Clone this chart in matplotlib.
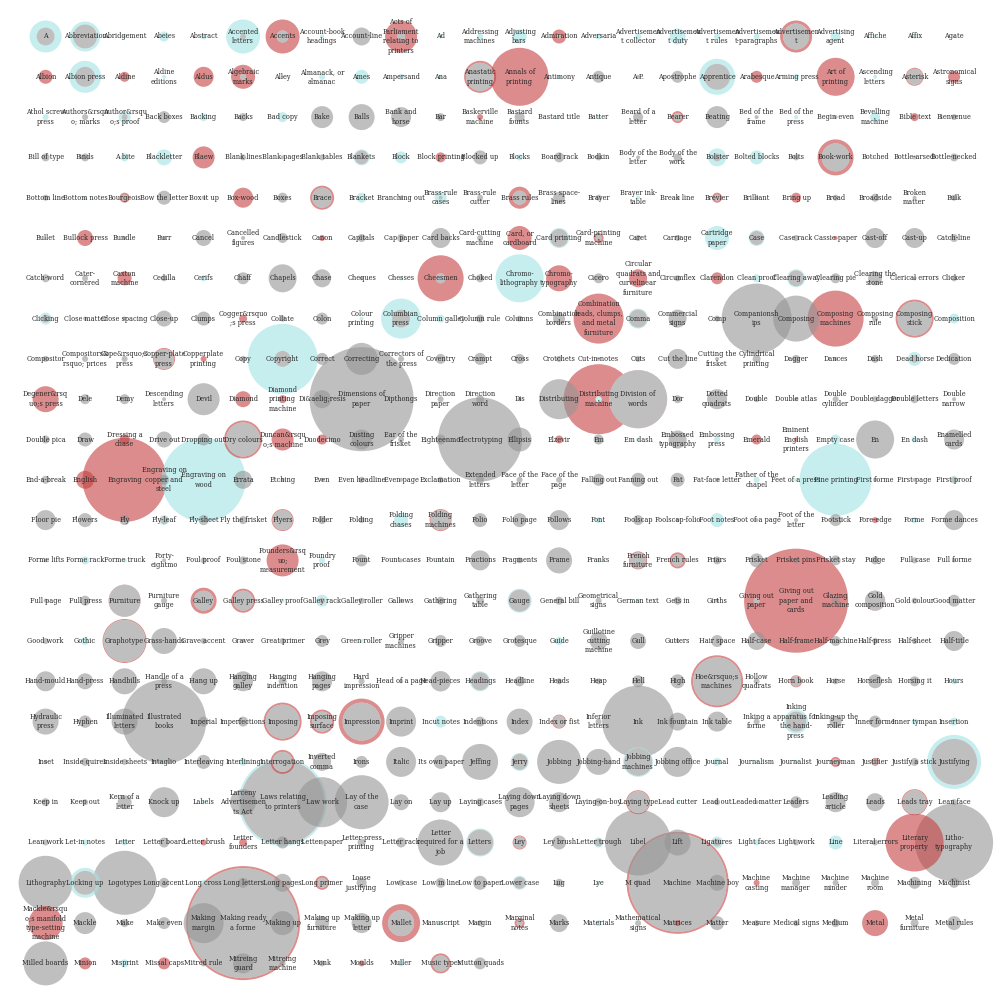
import matplotlib
matplotlib.use("Agg")
import matplotlib.pyplot as plt
from matplotlib.patches import Circle

# glossary terms, one grid row per line (24 per row)
terms = [
    "A", "Abbreviation", "Abridgement", "Abeies", "Abstract", "Accented\nletters", "Accents", "Account-book\nheadings", "Account-line", "Acts of\nParliament\nrelating to\nprinters", "Ad", "Addressing\nmachines",
    "Adjusting\nbars", "Admiration", "Adversaria", "Advertisemen\nt collector", "Advertisemen\nt duty", "Advertisemen\nt rules", "Advertisemen\nt-paragraphs", "Advertisemen\nt", "Advertising\nagent", "Affiche", "Affix", "Agate",
    "Albion", "Albion press", "Aldine", "Aldine\neditions", "Aldus", "Algebraic\nmarks", "Alley", "Almanack, or\nalmanac", "Ames", "Ampersand", "Ana", "Anastatic\nprinting",
    "Annals of\nprinting", "Antimony", "Antique", "A.P.", "Apostrophe", "Apprentice", "Arabesque", "Arming press", "Art of\nprinting", "Ascending\nletters", "Asterisk", "Astronomical\nsigns",
    "Athol screw\npress", "Authors&rsqu\no; marks", "Author&rsqu\no;s proof", "Back boxes", "Backing", "Backs", "Bad copy", "Bake", "Balls", "Bank and\nhorse", "Bar", "Baskerville\nmachine",
    "Bastard\nfounts", "Bastard title", "Batter", "Beard of a\nletter", "Bearer", "Beating", "Bed of the\nframe", "Bed of the\npress", "Begin even", "Bevelling\nmachine", "Bible text", "Bienvenue",
    "Bill of type", "Binds", "A bite", "Blackletter", "Blaew", "Blank lines", "Blank pages", "Blank tables", "Blankets", "Block", "Block printing", "Blocked up",
    "Blocks", "Board rack", "Bodkin", "Body of the\nletter", "Body of the\nwork", "Bolster", "Bolted blocks", "Bolts", "Book-work", "Botched", "Bottle-arsed", "Bottle-necked",
    "Bottom line", "Bottom notes", "Bourgeois", "Bow the letter", "Box it up", "Box-wood", "Boxes", "Brace", "Bracket", "Branching out", "Brass-rule\ncases", "Brass-rule\ncutter",
    "Brass rules", "Brass space-\nlines", "Brayer", "Brayer ink-\ntable", "Break line", "Brevier", "Brilliant", "Bring up", "Broad", "Broadside", "Broken\nmatter", "Bulk",
    "Bullet", "Bullock press", "Bundle", "Burr", "Cancel", "Cancelled\nfigures", "Candlestick", "Canon", "Capitals", "Cap paper", "Card backs", "Card-cutting\nmachine",
    "Card, or\ncardboard", "Card printing", "Card-printing\nmachine", "Caret", "Carriage", "Cartridge\npaper", "Case", "Case rack", "Cassie paper", "Cast-off", "Cast-up", "Catch-line",
    "Catch-word", "Cater-\ncornered", "Caxton\nmachine", "Cedilla", "Cerifs", "Chaff", "Chapels", "Chase", "Cheques", "Chesses", "Cheesmen", "Choked",
    "Chromo-\nlithography", "Chromo-\ntypography", "Cicero", "Circular\nquadrats and\ncurvelinear\nfurniture", "Circumflex", "Clarendon", "Clean proof", "Clearing away", "Clearing pie", "Clearing the\nstone", "Clerical errors", "Clicker",
    "Clicking", "Close matter", "Close spacing", "Close-up", "Clumps", "Cogger&rsquo\n;s press", "Collate", "Colon", "Colour\nprinting", "Columbian\npress", "Column galley", "Column rule",
    "Columns", "Combination\nborders", "Combination\nleads, clumps,\nand metal\nfurniture", "Comma", "Commercial\nsigns", "Comp", "Companionsh\nips", "Composing", "Composing\nmachines", "Composing\nrule", "Composing\nstick", "Composition",
    "Compositor", "Compositors&\nrsquo; prices", "Cope&rsquo;s\npress", "Copper-plate\npress", "Copperplate\nprinting", "Copy", "Copyright", "Correct", "Correcting", "Correctors of\nthe press", "Coventry", "Crampt",
    "Cross", "Crotchets", "Cut-in-notes", "Cuts", "Cut the line", "Cutting the\nfrisket", "Cylindrical\nprinting", "Dagger", "Dances", "Dash", "Dead horse", "Dedication",
    "Degener&rsq\nuo;s press", "Dele", "Demy", "Descending\nletters", "Devil", "Diamond", "Diamond\nprinting\nmachine", "Di&aelig;resis", "Dimensions of\npaper", "Dipthongs", "Direction\npaper", "Direction\nword",
    "Dis", "Distributing", "Distributing\nmachine", "Division of\nwords", "Dor", "Dotted\nquadrats", "Double", "Double atlas", "Double\ncylinder", "Double dagger", "Double letters", "Double\nnarrow",
    "Double pica", "Draw", "Dressing a\nchase", "Drive out", "Dropping out", "Dry colours", "Duncan&rsqu\no;s machine", "Duodecimo", "Dusting\ncolours", "Ear of the\nfrisket", "Eighteenmo", "Electrotyping",
    "Ellipsis", "Elzevir", "Em", "Em dash", "Embossed\ntypography", "Embossing\npress", "Emerald", "Eminent\nEnglish\nprinters", "Empty case", "En", "En dash", "Enamelled\ncards",
    "End-a-break", "English", "Engraving", "Engraving on\ncopper and\nsteel", "Engraving on\nwood", "Errata", "Etching", "Even", "Even headline", "Even page", "Exclamation", "Extended\nletters",
    "Face of the\nletter", "Face of the\npage", "Falling out", "Fanning out", "Fat", "Fat-face letter", "Father of the\nchapel", "Feet of a press", "Fine printing", "First forme", "First page", "First proof",
    "Floor pie", "Flowers", "Fly", "Fly-leaf", "Fly-sheet", "Fly the frisket", "Flyers", "Folder", "Folding", "Folding\nchases", "Folding\nmachines", "Folio",
    "Folio page", "Follows", "Font", "Foolscap", "Foolscap-folio", "Foot notes", "Foot of a page", "Foot of the\nletter", "Footstick", "Fore-edge", "Forme", "Forme dances",
    "Forme lifts", "Forme rack", "Forme truck", "Forty-\neightmo", "Foul proof", "Foul stone", "Founders&rsq\nuo;\nmeasurement", "Foundry\nproof", "Fount", "Fount cases", "Fountain", "Fractions",
    "Fragments", "Frame", "Franks", "French\nfurniture", "French rules", "Friars", "Frisket", "Frisket pins", "Frisket stay", "Fudge", "Full case", "Full forme",
    "Full page", "Full press", "Furniture", "Furniture\ngauge", "Galley", "Galley press", "Galley proof", "Galley rack", "Galley roller", "Gallows", "Gathering", "Gathering\ntable",
    "Gauge", "General bill", "Geometrical\nsigns", "German text", "Gets in", "Girths", "Giving out\npaper", "Giving out\npaper and\ncards", "Glazing\nmachine", "Gold\ncomposition", "Gold colour", "Good matter",
    "Good work", "Gothic", "Graphotype", "Grass-hands", "Grave accent", "Graver", "Great primer", "Grey", "Green roller", "Gripper\nmachines", "Gripper", "Groove",
    "Grotesque", "Guide", "Guillotine\ncutting\nmachine", "Gull", "Gutters", "Hair space", "Half-case", "Half-frame", "Half-machine", "Half-press", "Half-sheet", "Half-title",
    "Hand-mould", "Hand-press", "Handbills", "Handle of a\npress", "Hang up", "Hanging\ngalley", "Hanging\nindention", "Hanging\npages", "Hard\nimpression", "Head of a page", "Head-pieces", "Headings",
    "Headline", "Heads", "Heap", "Hell", "High", "Hoe&rsquo;s\nmachines", "Hollow\nquadrats", "Horn book", "Horse", "Horseflesh", "Horsing it", "Hours",
    "Hydraulic\npress", "Hyphen", "Illuminated\nletters", "Illustrated\nbooks", "Imperial", "Imperfections", "Imposing", "Imposing\nsurface", "Impression", "Imprint", "Incut notes", "Indentions",
    "Index", "Index or fist", "Inferior\nletters", "Ink", "Ink fountain", "Ink table", "Inking a\nforme", "Inking\napparatus for\nthe hand-\npress", "Inking-up the\nroller", "Inner forme", "Inner tympan", "Insertion",
    "Inset", "Inside quires", "Inside sheets", "Intaglio", "Interleaving", "Interlining", "Interrogation", "Inverted\ncomma", "Irons", "Italic", "Its own paper", "Jeffing",
    "Jerry", "Jobbing", "Jobbing-hand", "Jobbing\nmachines", "Jobbing office", "Journal", "Journalism", "Journalist", "Journeyman", "Justifier", "Justify a stick", "Justifying",
    "Keep in", "Keep out", "Kern of a\nletter", "Knock up", "Labels", "Larceny\nAdvertisemen\nts Act", "Laws relating\nto printers", "Law work", "Lay of the\ncase", "Lay on", "Lay up", "Laying cases",
    "Laying down\npages", "Laying down\nsheets", "Laying-on-boy", "Laying type", "Lead cutter", "Lead out", "Leaded matter", "Leaders", "Leading\narticle", "Leads", "Leads tray", "Lean face",
    "Lean work", "Let-in notes", "Letter", "Letter board", "Letter brush", "Letter\nfounders", "Letter hangs", "Letter paper", "Letter-press\nprinting", "Letter rack", "Letter\nrequired for a\njob", "Letters",
    "Ley", "Ley brush", "Letter trough", "Libel", "Lift", "Ligatures", "Light faces", "Light work", "Line", "Literal errors", "Literary\nproperty", "Litho-\ntypography",
    "Lithography", "Locking up", "Logotypes", "Long accent", "Long cross", "Long letters", "Long pages", "Long primer", "Loose\njustifying", "Low case", "Low in line", "Low to paper",
    "Lower case", "Lug", "Lye", "M quad", "Machine", "Machine boy", "Machine\ncasting", "Machine\nmanager", "Machine\nminder", "Machine\nroom", "Machining", "Machinist",
    "Mackle&rsqu\no;s manifold\ntype-setting\nmachine", "Mackle", "Make", "Make even", "Making\nmargin", "Making ready\na forme", "Making up", "Making up\nfurniture", "Making up\nletter", "Mallet", "Manuscript", "Margin",
    "Marginal\nnotes", "Marks", "Materials", "Mathematical\nsigns", "Matrices", "Matter", "Measure", "Medical signs", "Medium", "Metal", "Metal\nfurniture", "Metal rules",
    "Milled boards", "Minion", "Misprint", "Missal caps", "Mitred rule", "Mitreing\nguard", "Mitreing\nmachine", "Monk", "Moulds", "Muller", "Music types", "Mutton quads",
]

# circle radius (px) for each of the three series, same order as terms
teal = [
    16,15,2,5,3,17,0,2,0,0,2,3, 7,0,3,3,8,3,3,0,5,2,2,1,
    0,16,0,2,0,0,0,3,7,3,2,0, 0,2,0,0,0,18,0,3,0,2,0,0,
    3,0,6,0,4,0,5,0,0,0,0,0, 0,2,2,0,0,0,0,2,0,5,0,0,
    0,0,4,8,0,0,0,0,8,6,0,0, 3,0,0,0,0,9,7,0,0,1,0,0,
    0,2,0,0,0,0,0,0,5,0,6,0, 0,0,0,2,0,0,0,0,0,0,0,0,
    0,0,0,0,0,0,0,0,0,0,0,0, 0,10,0,0,0,12,8,0,0,10,0,0,
    0,0,0,0,3,0,0,0,0,2,0,0, 24,0,0,0,0,0,4,9,0,0,0,0,
    6,0,0,0,0,0,0,0,2,20,4,0, 0,0,0,10,0,0,0,0,0,0,0,5,
    0,0,0,0,0,0,35,0,0,0,0,0, 0,0,0,0,0,0,0,0,0,0,7,0,
    0,0,0,0,0,0,0,0,0,0,0,0, 0,0,3,0,0,0,0,0,0,0,0,0,
    0,0,0,0,0,0,0,0,0,0,0,0, 0,0,0,2,0,3,0,0,5,0,3,0,
    0,0,0,0,42,0,0,0,0,0,0,0, 0,0,0,0,0,0,3,2,36,0,0,4,
    0,0,0,5,0,0,0,0,0,7,0,0, 0,0,3,0,0,7,0,0,0,0,3,0,
    0,4,2,0,0,0,0,3,0,0,2,0, 0,0,2,0,0,0,0,0,0,0,0,0,
    0,0,0,0,0,0,2,6,0,0,0,0, 12,0,0,2,0,0,0,0,0,0,0,0,
    0,4,0,0,0,0,0,0,2,0,0,0, 0,4,0,0,0,0,0,0,0,0,0,0,
    0,0,0,0,0,0,0,0,0,0,0,10, 0,0,0,0,0,0,0,0,0,0,0,3,
    0,0,0,0,0,0,0,0,0,0,6,0, 0,0,0,0,0,0,0,12,0,0,3,4,
    0,0,0,2,0,4,0,0,0,0,0,0, 9,0,0,15,0,4,2,2,0,0,0,27,
    0,0,0,0,2,0,44,0,0,0,0,0, 0,0,0,0,2,0,0,0,0,0,0,0,
    0,3,3,0,0,0,0,0,0,0,0,14, 0,0,5,0,0,6,3,0,7,0,0,0,
    0,15,0,0,3,0,0,0,0,0,0,0, 7,0,2,0,0,0,0,0,0,0,0,0,
    0,0,0,0,0,0,0,0,0,0,2,0, 0,0,3,0,0,0,0,0,0,0,0,0,
    0,0,4,0,0,0,0,0,0,3,0,0,
]
red = [
    0,0,0,0,0,0,17,0,0,16,0,0, 0,7,0,0,0,0,0,16,0,0,0,0,
    7,0,5,0,10,12,0,0,0,0,0,16, 29,0,0,0,0,0,6,0,19,0,9,6,
    0,0,0,0,0,0,0,0,0,0,0,3, 0,0,0,0,6,0,0,0,0,0,4,0,
    0,0,0,0,11,0,0,0,0,0,5,0, 0,0,0,0,0,0,0,0,18,0,0,0,
    0,0,5,0,0,10,0,12,0,0,0,0, 11,0,0,0,0,5,0,5,0,0,0,0,
    0,8,0,0,0,0,0,3,0,0,0,0, 12,0,5,0,0,0,0,0,2,0,0,0,
    0,0,7,0,0,0,0,0,0,0,23,0, 0,13,0,9,0,6,0,0,0,0,0,0,
    0,0,0,0,0,4,0,0,0,0,0,0, 0,0,25,0,0,0,0,0,28,0,19,0,
    0,0,0,11,3,0,0,0,0,0,0,0, 0,0,0,0,0,0,0,0,0,0,0,0,
    13,0,0,0,0,8,4,0,0,10,0,0, 0,0,35,29,0,0,0,0,0,0,0,0,
    0,0,5,0,0,19,11,5,0,0,0,0, 0,4,0,0,0,0,5,2,0,0,0,0,
    0,9,42,0,0,0,0,0,0,0,0,0, 0,0,0,0,0,0,0,0,0,0,0,0,
    0,0,0,0,0,0,11,0,0,0,11,0, 0,0,0,0,0,0,0,0,0,3,0,0,
    0,0,0,0,0,0,16,0,0,0,0,0, 0,0,0,9,8,0,0,0,0,0,0,0,
    0,0,16,0,13,12,0,0,0,0,0,0, 0,0,0,0,0,0,3,52,0,10,0,0,
    0,0,22,0,0,0,0,0,0,0,0,0, 0,0,0,0,0,0,0,0,0,0,0,0,
    0,0,0,0,0,0,0,0,0,0,10,0, 0,0,0,0,0,26,0,6,0,0,0,0,
    0,6,0,0,0,0,19,12,23,0,0,0, 0,7,0,0,0,0,0,0,0,0,0,0,
    0,0,0,0,0,0,12,0,0,0,0,0, 0,0,0,0,0,0,0,0,5,4,0,0,
    0,0,0,0,0,0,0,0,0,0,0,0, 0,0,0,12,0,0,0,0,0,0,13,0,
    0,0,0,0,3,4,0,0,0,0,0,0, 7,0,0,0,0,0,0,0,0,0,29,0,
    0,0,0,0,0,0,0,7,0,0,0,0, 0,0,0,0,51,0,3,0,0,0,0,0,
    17,0,0,0,0,57,0,0,0,19,0,0, 5,0,0,0,3,0,0,0,0,13,0,0,
    0,6,0,6,0,0,0,0,3,0,10,0,
]
grey = [
    9,12,0,0,0,3,6,0,9,4,0,0, 0,2,0,0,0,0,0,13,0,0,0,1,
    0,10,0,0,0,3,1,0,0,0,0,14, 0,0,6,2,6,13,0,0,0,0,8,0,
    0,3,3,6,0,4,0,11,13,10,4,0, 5,0,0,5,4,11,2,0,2,0,0,3,
    4,4,0,0,0,3,2,3,7,0,0,7, 0,5,3,2,4,4,0,3,14,0,2,4,
    3,0,3,7,2,0,5,10,0,2,2,3, 7,6,3,0,2,3,2,0,3,4,2,3,
    1,0,2,2,8,2,5,0,4,4,10,3, 0,9,3,3,3,0,7,3,0,10,10,4,
    4,3,0,3,0,6,14,9,2,0,5,4, 0,0,5,0,3,0,0,8,5,7,2,3,
    4,2,2,8,7,0,3,6,0,9,0,4, 3,6,0,9,9,3,35,23,0,3,17,0,
    3,3,3,10,0,3,8,6,16,3,5,6, 5,3,2,3,10,2,4,4,2,4,4,6,
    0,5,5,2,16,0,0,9,52,10,3,4, 2,20,0,29,4,10,3,2,3,3,4,2,
    4,7,0,8,6,17,0,0,10,3,5,42, 12,0,5,0,9,0,0,0,0,19,0,10,
    4,0,0,5,0,9,2,2,3,2,3,4, 3,3,6,7,7,2,0,0,0,2,2,3,
    10,7,5,4,5,4,10,4,3,0,10,7, 7,10,0,5,2,0,2,2,6,0,0,10,
    2,0,0,2,3,4,0,0,6,2,0,10, 3,13,0,8,6,4,7,3,5,4,3,2,
    2,5,16,3,10,10,0,3,3,2,4,4, 11,4,3,0,4,2,3,0,4,10,3,6,
    3,0,21,13,3,2,3,6,0,3,6,5, 6,0,9,8,2,6,9,3,5,3,3,10,
    10,8,13,3,13,10,4,10,3,2,10,9, 5,3,3,6,7,24,3,5,3,7,5,0,
    13,6,13,42,5,5,17,10,19,15,0,5, 13,6,3,36,9,10,3,10,6,6,0,0,
    2,4,3,0,7,0,10,9,6,15,7,18, 8,22,13,14,15,0,0,0,3,3,4,23,
    4,3,7,15,0,13,42,25,27,8,10,4, 15,10,4,11,0,3,2,6,10,9,12,3,
    3,0,0,5,0,0,6,2,4,5,23,13, 6,7,4,33,13,4,0,3,0,3,0,39,
    27,12,32,5,0,5,9,5,5,3,5,7, 6,4,0,3,49,8,0,4,3,4,6,5,
    0,11,4,6,20,55,12,7,10,13,0,3, 3,9,0,3,0,7,3,3,4,0,4,7,
    22,0,0,0,3,10,3,3,0,0,8,6,
]

colors = {"teal": "#a0e3e3", "red": "#c53f3f", "grey": "#959595"}
ncols = 24
x0, dx = 45.6, 39.5
y0, dy = 36.5, 40.3

fig = plt.figure(figsize=(10, 10), dpi=100)
ax = fig.add_axes([0, 0, 1, 1])
ax.set_xlim(0, 1000)
ax.set_ylim(1000, 0)
ax.axis("off")

circles = []
for i, name in enumerate(terms):
    cx = x0 + dx * (i % ncols)
    cy = y0 + dy * (i // ncols)
    cell = [(vals[i], colors[s]) for s, vals in (("teal", teal), ("red", red), ("grey", grey)) if vals[i] > 0]
    cell.sort(key=lambda c: -c[0])
    for k, (r, col) in enumerate(cell):
        # inner circles of one term sit on white, not blended with the outer one
        circles.append((r, cx, cy, col, k > 0))

circles.sort(key=lambda c: -c[0])
for r, cx, cy, col, inner in circles:
    if inner:
        ax.add_patch(Circle((cx, cy), r, facecolor="white", edgecolor="none"))
    ax.add_patch(Circle((cx, cy), r, facecolor=col, edgecolor="none", alpha=0.6))

for i, name in enumerate(terms):
    cx = x0 + dx * (i % ncols)
    cy = y0 + dy * (i // ncols)
    ax.text(cx, cy, name, ha="center", va="center", fontsize=4.7,
            family="DejaVu Serif", color="#2a2a2a", linespacing=1.25)

fig.savefig("out.png", dpi=100, facecolor="white")
